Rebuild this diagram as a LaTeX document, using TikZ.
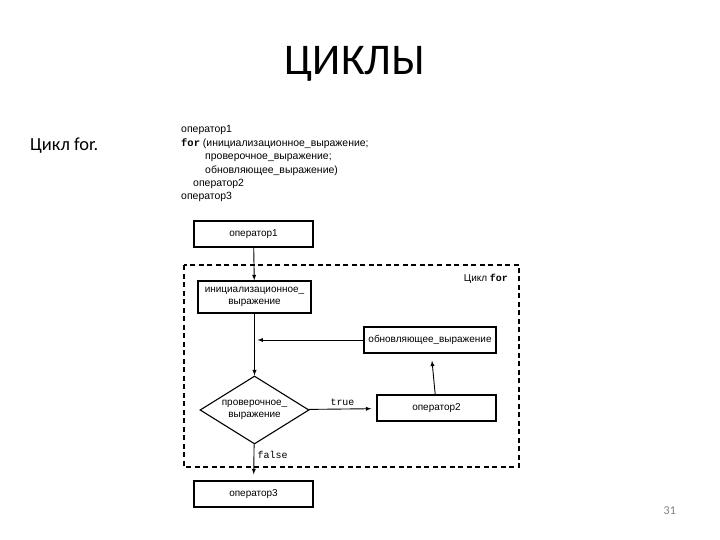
\documentclass[tikz,border=0pt]{standalone}
\usepackage{fontspec}
\setmainfont{Carlito}
\newfontfamily\diagfont{Liberation Sans}
\newfontfamily\codefont{Liberation Mono}
\usetikzlibrary{shapes.geometric}
\newcommand{\diagtext}{\diagfont\fontsize{10}{11.5}\selectfont}
\newcommand{\kw}[1]{{\codefont\bfseries #1}}

\begin{document}
\begin{tikzpicture}[x=1bp,y=-1bp]
		\tikzset{> = latex}
		\tikzset{box/.style = {draw, line width=1.3bp, inner sep=0pt, align=center, font=\diagtext},
			line/.style = {line width=0.9bp},
			code/.style = {anchor=base west, inner sep=0pt, font=\diagfont\fontsize{10.5}{12}\selectfont}}
		\useasboundingbox (0,0) rectangle (720,540);
		% slide texts
		\node[anchor=base, inner sep=0pt, font=\fontsize{44}{48}\selectfont] (Title) at (355,75) {ЦИКЛЫ};
		\node[anchor=base west, inner sep=0pt, font=\fontsize{18.5}{22}\selectfont] (Sub) at (30,151) {Цикл for.};
		\node[anchor=base east, inner sep=0pt, text=gray, font=\fontsize{12}{14}\selectfont] (Page) at (676,514) {31};
		% source lines
		\node[code] (C1) at (181,133) {оператор1};
		\node[code] (C2) at (181,146.5) {\kw{for} (инициализационное\_выражение;};
		\node[code] (C3) at (205,160) {проверочное\_выражение;};
		\node[code] (C4) at (205,173.5) {обновляющее\_выражение)};
		\node[code] (C5) at (193,187) {оператор2};
		\node[code] (C6) at (181,200) {оператор3};
		% loop frame
		\draw[line width=1.8bp, dash pattern=on 5bp off 3.5bp] (184,265) rectangle (519,467);
		\node[anchor=base east, inner sep=0pt, font=\diagtext] (Loop) at (508,282) {Цикл \kw{for}};
		% blocks
		\node[box, minimum width=119bp, minimum height=26bp] (Op1) at (253.5,234) {оператор1};
		\node[box, minimum width=113bp, minimum height=32bp] (Init) at (254.5,297) {инициализационное\_\\выражение};
		\node[box, minimum width=132bp, minimum height=26bp] (Upd) at (430,340) {обновляющее\_выражение};
		\node[box, shape=diamond, aspect=1.6, minimum width=109bp, minimum height=68bp, line width=1.1bp] (Test) at (254.5,410) {проверочное\_\\выражение};
		\node[box, minimum width=119bp, minimum height=26bp] (Op2) at (436.5,408) {оператор2};
		\node[box, minimum width=119bp, minimum height=26bp] (Op3) at (253.5,494) {оператор3};
		\coordinate (Join) at (Init |- Upd);
		% connectors
		\draw[->, line] (Op1) -- (Init);
		\draw[->, line] (Init) -- (Test);
		\draw[->, line, shorten >=3bp] (Upd) -- (Join);
		\draw[->, line, shorten >=5bp] (Test) -- node[above, font=\codefont\fontsize{10}{12}\selectfont]{true} (Op2);
		\draw[->, line, shorten >=7bp] (Op2) -- (Upd);
		\draw[->, line, shorten >=6bp] (Test) -- node[pos=0.3, right, font=\codefont\fontsize{10}{12}\selectfont]{false} (Op3);
	\end{tikzpicture}
\end{document}
